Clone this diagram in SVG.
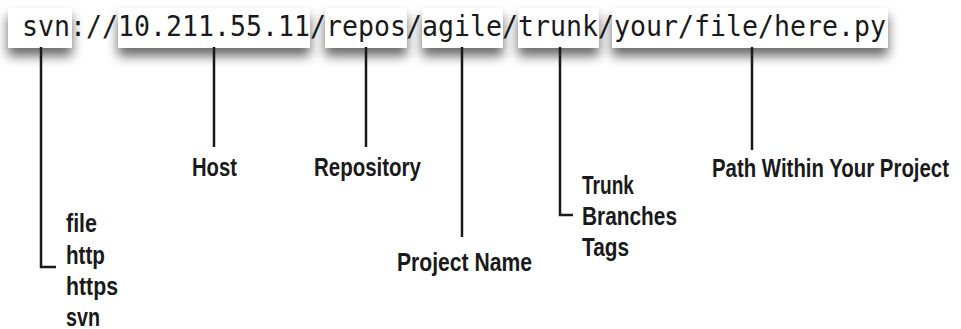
<svg xmlns="http://www.w3.org/2000/svg" width="961" height="329" viewBox="0 0 961 329">
  <defs>
    <filter id="shadow" x="-20%" y="-60%" width="140%" height="280%">
      <feGaussianBlur in="SourceAlpha" stdDeviation="6"/>
      <feOffset dx="0" dy="8" result="b"/>
      <feComponentTransfer><feFuncA type="linear" slope="0.6"/></feComponentTransfer>
      <feMerge><feMergeNode/><feMergeNode in="SourceGraphic"/></feMerge>
    </filter>
  </defs>
  <style>
    .box { fill: #ffffff; filter: url(#shadow); }
    .url { font-family: "DejaVu Sans Mono", "Liberation Mono", monospace; font-size: 29px; fill: #1a1a1a; }
    .lbl { font-family: "Liberation Sans Narrow", "Liberation Sans", sans-serif; font-size: 25px; font-weight: bold; fill: #1a1a1a; }
    .conn { fill: none; stroke: #1a1a1a; stroke-width: 2.5; }
  </style>
  <rect width="961" height="329" fill="#ffffff"/>
  <g id="url">
    <rect class="box" x="8" y="8" width="64" height="40"/>
    <rect class="box" x="118" y="8" width="192" height="40"/>
    <rect class="box" x="325" y="8" width="82" height="40"/>
    <rect class="box" x="422" y="8" width="81" height="40"/>
    <rect class="box" x="518" y="8" width="81" height="40"/>
    <rect class="box" x="612" y="8" width="276" height="40"/>
    <text class="url" x="22" y="36" textLength="864" lengthAdjust="spacingAndGlyphs">svn://10.211.55.11/repos/agile/trunk/your/file/here.py</text>
  </g>
  <g id="connectors">
    <path class="conn" d="M41 47 V267 H56"/>
    <path class="conn" d="M214 47 V147"/>
    <path class="conn" d="M366 47 V147"/>
    <path class="conn" d="M462 47 V237"/>
    <path class="conn" d="M560 47 V215 H573"/>
    <path class="conn" d="M752 47 V150"/>
  </g>
  <g id="protocol">
    <text class="lbl" x="66" y="232" textLength="31" lengthAdjust="spacingAndGlyphs">file</text>
    <text class="lbl" x="66" y="263.5" textLength="39" lengthAdjust="spacingAndGlyphs">http</text>
    <text class="lbl" x="66" y="295" textLength="52" lengthAdjust="spacingAndGlyphs">https</text>
    <text class="lbl" x="66" y="326" textLength="34" lengthAdjust="spacingAndGlyphs">svn</text>
  </g>
  <g id="host">
    <text class="lbl" x="192" y="176" textLength="45" lengthAdjust="spacingAndGlyphs">Host</text>
  </g>
  <g id="repository">
    <text class="lbl" x="314" y="176" textLength="107" lengthAdjust="spacingAndGlyphs">Repository</text>
  </g>
  <g id="project-name">
    <text class="lbl" x="397" y="271" textLength="135" lengthAdjust="spacingAndGlyphs">Project Name</text>
  </g>
  <g id="trunk">
    <text class="lbl" x="582" y="194" textLength="52" lengthAdjust="spacingAndGlyphs">Trunk</text>
    <text class="lbl" x="582" y="225" textLength="95" lengthAdjust="spacingAndGlyphs">Branches</text>
    <text class="lbl" x="582" y="256" textLength="47" lengthAdjust="spacingAndGlyphs">Tags</text>
  </g>
  <g id="path">
    <text class="lbl" x="712" y="177" textLength="237" lengthAdjust="spacingAndGlyphs">Path Within Your Project</text>
  </g>
</svg>
